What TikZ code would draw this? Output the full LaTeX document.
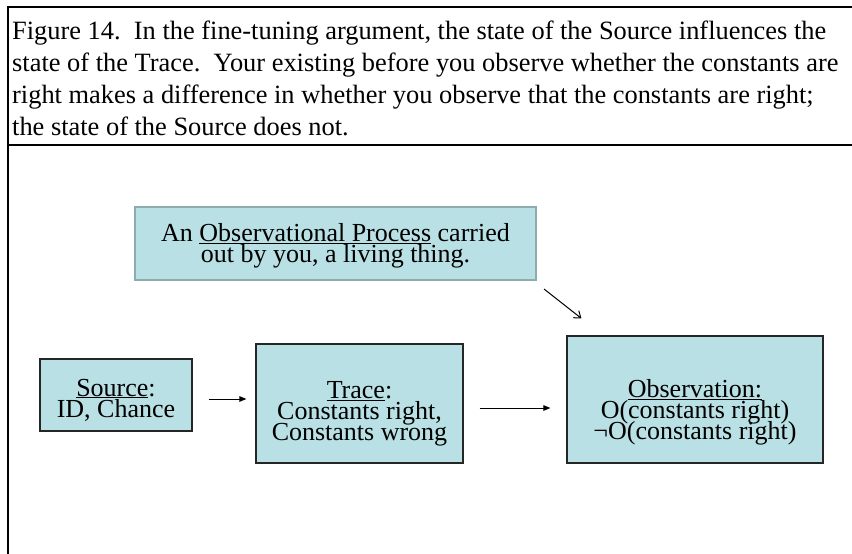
\documentclass[tikz,border=0pt]{standalone}
\usepackage{fontspec}
\setmainfont{Liberation Serif}
\usetikzlibrary{positioning,arrows.meta}

\definecolor{boxfill}{RGB}{185,224,228}
\definecolor{procedge}{RGB}{140,172,175}
\newcommand{\captfont}{\fontsize{26.4}{32}\selectfont}
\newcommand{\boxfont}{\fontsize{26}{21}\selectfont\lineskiplimit=-30pt}
% taller first line pushes the text down in its box
\newcommand{\topgap}[1]{\rule{0pt}{#1}}

\tikzset{
  boxnode/.style={draw=black!85, line width=1.2pt, fill=boxfill, align=center, inner sep=0pt, font=\boxfont},
  procnode/.style={boxnode, draw=procedge, line width=2pt},
  flowarrow/.style={-{Triangle[length=7pt,width=5.5pt]}, line width=1pt},
  openarrow/.style={-{Straight Barb[length=6pt,width=9pt]}, line width=1pt}
}

\begin{document}
\begin{tikzpicture}[x=1pt, y=-1pt]
    \useasboundingbox (0,0) rectangle (852,554);

    % frame and caption rule
    \draw[line width=2.2pt] (852,6.7) -- (7.7,6.7) -- (7.7,554);
    \draw[line width=1.2pt] (7.7,145) -- (852,145);

    % Caption
    \node[anchor=north west, align=left, inner sep=0pt, font=\captfont] (caption) at (12,21)
        {Figure 14.~~In the fine-tuning argument, the state of the Source influences the\\
         state of the Trace.~~Your existing before you observe whether the constants are\\
         right makes a difference in whether you observe that the constants are right;\\
         the state of the Source does not.};

    % Observational process
    \node[procnode, minimum width=401pt, minimum height=73pt] (process) at (335.5,243.5)
        {\topgap{22pt}An \underline{Observational Process} carried\\out by you, a living thing.};

    % Source, Trace, Observation
    \node[boxnode, minimum width=152pt, minimum height=72pt] (source) at (116,395)
        {\topgap{27pt}\underline{Source}:\\ID, Chance};
    \node[boxnode, minimum width=207pt, minimum height=119pt] (trace) at (359.5,403.5)
        {\topgap{37pt}\underline{Trace}:\\Constants right,\\Constants wrong};
    \node[boxnode, minimum width=256pt, minimum height=127pt] (obs) at (695,399.5)
        {\topgap{43pt}\underline{Observation:}\\O(constants right)\\¬O(constants right)};

    % Connections
    \draw[flowarrow] ([shift={(16pt,-4pt)}]source.east) -- ([shift={(-9pt,4.5pt)}]trace.west);
    \draw[flowarrow] ([shift={(16pt,-4.5pt)}]trace.east) -- ([shift={(-16pt,-8.5pt)}]obs.west);
    \draw[openarrow] ([shift={(7pt,-8pt)}]process.south east) -- ([shift={(15pt,17pt)}]obs.north west);
\end{tikzpicture}
\end{document}
